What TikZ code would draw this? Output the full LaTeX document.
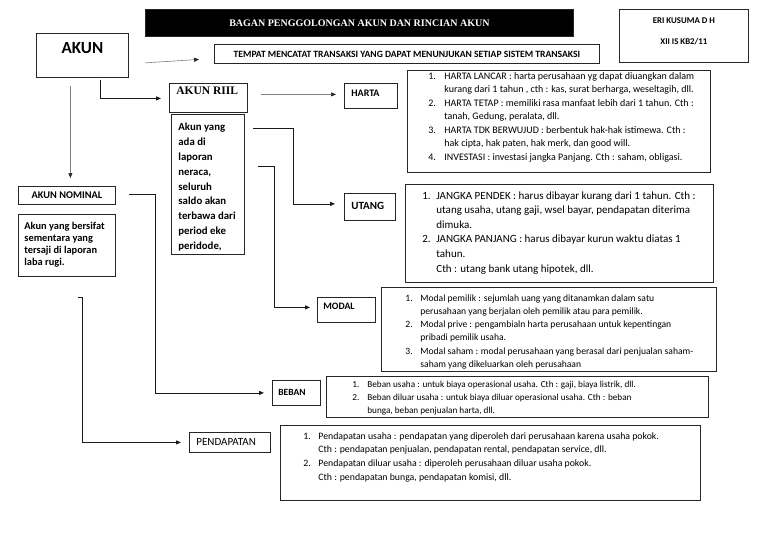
\documentclass[tikz,border=0pt]{standalone}
\usepackage{fontspec}
\setmainfont{Carlito}
\newfontfamily\serifbf{Liberation Serif}
\usetikzlibrary{arrows.meta,calc}
\newlength\numw
\newcommand\itm[2]{\makebox[\numw][l]{#1}#2}
\newcommand\itmc[1]{\hspace*{\numw}#1}
% W H toppad leftskip content
\newcommand\boxL[5]{\begin{minipage}[c][#2][t]{#1}\vspace*{#3}\raggedright\leftskip=#4\relax #5\par\end{minipage}}
% W H toppad content (centred)
\newcommand\boxC[4]{\begin{minipage}[c][#2][t]{#1}\vspace*{#3}\centering #4\par\end{minipage}}
% W H content (middle)
\newcommand\boxM[3]{\begin{minipage}[c][#2][c]{#1}\centering #3\par\end{minipage}}
\tikzset{
  bx/.style={draw=black!85, line width=0.8pt, inner sep=0pt, anchor=north west},
  con/.style={line width=0.8pt, draw=black!90, -{Triangle[length=5pt,width=4pt]}},
  gcon/.style={line width=0.6pt, draw=black!50, -{Triangle[length=5pt,width=4pt,color=black!85]}}
}
\begin{document}
\begin{tikzpicture}[x=1pt,y=-1pt]
\path[use as bounding box, fill=white] (0,0) rectangle (768,543);

% title and name
\node[bx, fill=black] (title) at (145,9) {\boxM{428pt}{27pt}{\color{white}\serifbf\bfseries\fontsize{10}{12}\selectfont BAGAN PENGGOLONGAN AKUN DAN RINCIAN AKUN}};
\node[bx] (eri) at (619,9) {\boxC{129pt}{53pt}{8pt}{\bfseries\fontsize{8.8}{21}\selectfont ERI KUSUMA D H\\XII IS KB2/11}};

% main boxes
\node[bx] (akun) at (36,33) {\boxC{92pt}{44pt}{9pt}{\bfseries\fontsize{17}{20}\selectfont AKUN}};
\node[bx] (tempat) at (214,44) {\boxM{385pt}{19pt}{\bfseries\fontsize{9.6}{11}\selectfont TEMPAT MENCATAT TRANSAKSI YANG DAPAT MENUNJUKAN SETIAP SISTEM TRANSAKSI}};
\node[bx] (riil) at (169,83) {\boxL{78pt}{29pt}{3.4pt}{7pt}{\serifbf\bfseries\fontsize{11.5}{13}\selectfont AKUN RIIL}};
\node[bx] (riildesc) at (171,114) {\boxL{73pt}{140pt}{8.5pt}{7pt}{\bfseries\fontsize{10.8}{14.9}\selectfont Akun yang\\ada di\\laporan\\neraca,\\seluruh\\saldo akan\\terbawa dari\\period eke\\peridode,}};
\node[bx] (nominal) at (18,186) {\boxM{97pt}{18pt}{\bfseries\fontsize{10.3}{12}\selectfont AKUN NOMINAL}};
\node[bx] (nomdesc) at (18,214) {\boxL{97pt}{62pt}{8pt}{6pt}{\bfseries\fontsize{10.4}{12}\selectfont Akun yang bersifat\\sementara yang\\tersaji di laporan\\laba rugi.}};

% category labels
\node[bx] (harta) at (344,83) {\boxL{53pt}{25pt}{7pt}{7pt}{\bfseries\fontsize{10}{12}\selectfont HARTA}};
\node[bx] (utang) at (344,193) {\boxL{51pt}{27pt}{9pt}{7pt}{\bfseries\fontsize{11}{13}\selectfont UTANG}};
\node[bx] (modal) at (317,297) {\boxL{58pt}{25pt}{6pt}{6pt}{\bfseries\fontsize{9.8}{12}\selectfont MODAL}};
\node[bx] (beban) at (272,380) {\boxL{48pt}{25pt}{9pt}{6pt}{\bfseries\fontsize{9.5}{12}\selectfont BEBAN}};
\node[bx] (pendapatan) at (189,432) {\boxL{81pt}{20pt}{6.4pt}{7pt}{\fontsize{11}{13}\selectfont PENDAPATAN}};

% detail lists
\node[bx] (hartalist) at (407,70) {\boxL{303pt}{102pt}{2pt}{21pt}{\setlength\numw{16pt}\fontsize{10}{13.5}\selectfont
\itm{1.}{HARTA LANCAR : harta perusahaan yg dapat diuangkan dalam}\\
\itmc{kurang dari 1 tahun , cth : kas, surat berharga, weseltagih, dll.}\\
\itm{2.}{HARTA TETAP : memiliki rasa manfaat lebih dari 1 tahun. Cth :}\\
\itmc{tanah, Gedung, peralata, dll.}\\
\itm{3.}{HARTA TDK BERWUJUD : berbentuk hak-hak istimewa. Cth :}\\
\itmc{hak cipta, hak paten, hak merk, dan good will.}\\
\itm{4.}{INVESTASI : investasi jangka Panjang. Cth : saham, obligasi.}}};

\node[bx] (utanglist) at (405,184) {\boxL{308pt}{98pt}{7pt}{17pt}{\setlength\numw{14pt}\fontsize{11}{14.6}\selectfont
\itm{1.}{JANGKA PENDEK : harus dibayar kurang dari 1 tahun. Cth :}\\
\itmc{utang usaha, utang gaji, wsel bayar, pendapatan diterima}\\
\itmc{dimuka.}\\
\itm{2.}{JANGKA PANJANG : harus dibayar kurun waktu diatas 1}\\
\itmc{tahun.}\\
\itmc{Cth : utang bank utang hipotek, dll.}}};

\node[bx] (modallist) at (381,287) {\boxL{335pt}{84pt}{7pt}{24pt}{\setlength\numw{15pt}\fontsize{9.6}{13.3}\selectfont
\itm{1.}{Modal pemilik : sejumlah uang yang ditanamkan dalam satu}\\
\itmc{perusahaan yang berjalan oleh pemilik atau para pemilik.}\\
\itm{2.}{Modal prive : pengambialn harta perusahaan untuk kepentingan}\\
\itmc{pribadi pemilik usaha.}\\
\itm{3.}{Modal saham : modal perusahaan yang berasal dari penjualan saham-}\\
\itmc{saham yang dikeluarkan oleh perusahaan}}};

\node[bx] (bebanlist) at (326,376) {\boxL{382pt}{41pt}{4.6pt}{26pt}{\setlength\numw{15pt}\fontsize{9.2}{13}\selectfont
\itm{1.}{Beban usaha : untuk biaya operasional usaha. Cth : gaji, biaya listrik, dll.}\\
\itm{2.}{Beban diluar usaha : untuk biaya diluar operasional usaha. Cth : beban}\\
\itmc{bunga, beban penjualan harta, dll.}}};

\node[bx] (pendlist) at (280,425) {\boxL{420pt}{75pt}{7pt}{23pt}{\setlength\numw{15pt}\fontsize{9.8}{13.7}\selectfont
\itm{1.}{Pendapatan usaha : pendapatan yang diperoleh dari perusahaan karena usaha pokok.}\\
\itmc{Cth : pendapatan penjualan, pendapatan rental, pendapatan service, dll.}\\
\itm{2.}{Pendapatan diluar usaha : diperoleh perusahaan diluar usaha pokok.}\\
\itmc{Cth : pendapatan bunga, pendapatan komisi, dll.}}};

% connectors
\draw[gcon] ($(akun.east)+(16,7.5)$) -- ($(tempat.west)+(-15,5.5)$);
\draw[con] ($(akun.south)+(18,2)$) |- ($(riil.west)+(-8,0.5)$);
\draw[gcon] ($(akun.south)+(-12,8)$) -- ($(nominal.north)+(3.5,-8)$);
\draw[gcon] ($(riil.east)+(13,-3.5)$) -- ($(harta.west)+(-8,-1.5)$);
\draw[con] ($(riildesc.east)+(8,-56)$) -| ($(utang.west)+(-51,-3)$) -- ($(utang.west)+(-9,-3)$);
\draw[con] ($(riildesc.east)+(13,-18)$) -| ($(modal.west)+(-43,-2.5)$) -- ($(modal.west)+(-7,-2.5)$);
\draw[con] ($(nominal.east)+(13,-1)$) -| ($(beban.west)+(-117,0)$) -- ($(beban.west)+(-8,0)$);
\draw[con] ($(nomdesc.south)+(11.5,21)$) -| ($(pendapatan.west)+(-107,0)$) -- ($(pendapatan.west)+(-8,0)$);
\end{tikzpicture}
\end{document}
